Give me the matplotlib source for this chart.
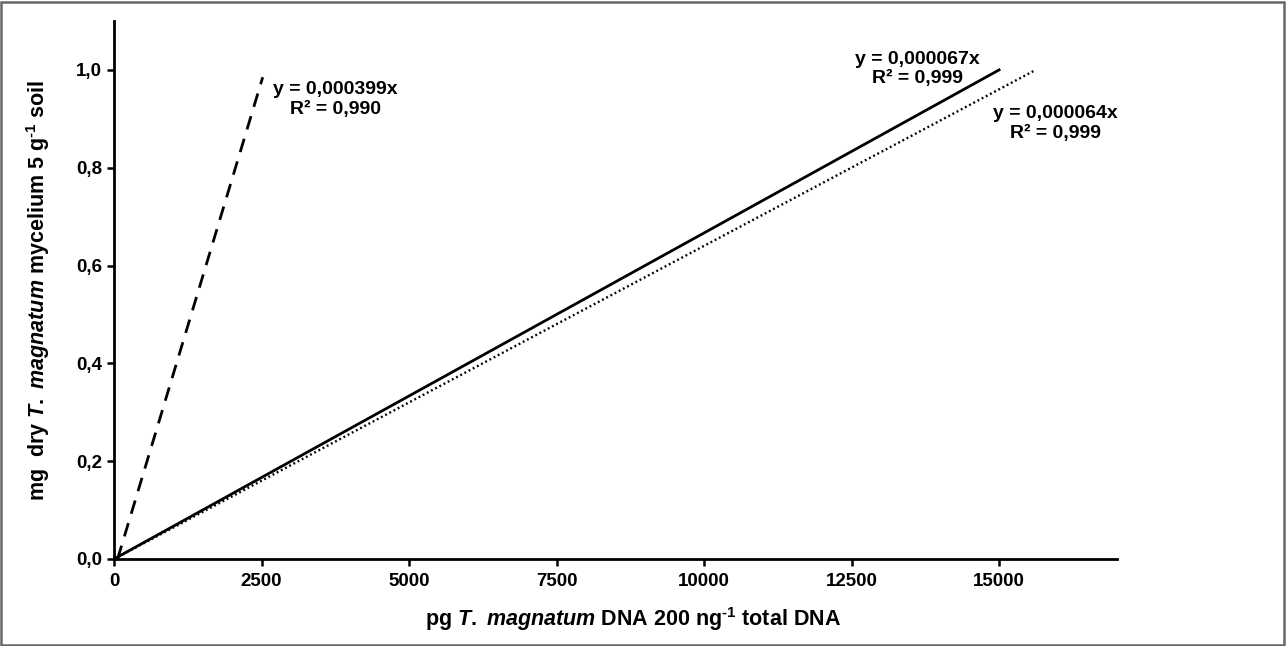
import matplotlib.pyplot as plt
from matplotlib.patches import Rectangle

plt.rcParams['font.family'] = ['Liberation Sans', 'DejaVu Sans']
plt.rcParams['font.weight'] = 'bold'
plt.rcParams['axes.labelweight'] = 'bold'
plt.rcParams['mathtext.fontset'] = 'custom'
plt.rcParams['mathtext.rm'] = 'Liberation Sans:bold'
plt.rcParams['mathtext.it'] = 'Liberation Sans:italic:bold'
plt.rcParams['mathtext.bf'] = 'Liberation Sans:bold'

# regression lines, endpoints
dashed_x = [60, 2520]
dashed_y = [0.0, 0.985]
solid_x = [0, 15000]
solid_y = [0.0, 1.0]
dotted_x = [0, 15620]
dotted_y = [0.0, 1.0]

eq_labels = ['y = 0,000399x\nR\u00b2 = 0,990',
             'y = 0,000067x\nR\u00b2 = 0,999',
             'y = 0,000064x\nR\u00b2 = 0,999']
eq_x = [3750, 13610, 15950]
eq_y = [0.94, 1.002, 0.89]

x_ticks = [0, 2500, 5000, 7500, 10000, 12500, 15000]
y_ticks = [0.0, 0.2, 0.4, 0.6, 0.8, 1.0]
y_tick_labels = ['0,0', '0,2', '0,4', '0,6', '0,8', '1,0']

fig = plt.figure(figsize=(12.87, 6.46), dpi=100)
ax = fig.add_axes([0.0886, 0.1347, 0.7794, 0.8328])

ax.plot(dashed_x, dashed_y, color='black', lw=2, linestyle=(0, (5, 3.5)))
ax.plot(solid_x, solid_y, color='black', lw=2)
ax.plot(dotted_x, dotted_y, color='black', lw=1.7, linestyle=(0, (0.8, 1.2)))

for lab, tx, ty in zip(eq_labels, eq_x, eq_y):
    ax.text(tx, ty, lab, ha='center', va='center', multialignment='center',
            fontsize=14, fontweight='bold', linespacing=1.2)

ax.set_xlim(0, 17000)
ax.set_ylim(0, 1.1)
ax.set_xticks(x_ticks)
ax.set_xticklabels([str(t) for t in x_ticks])
ax.set_yticks(y_ticks)
ax.set_yticklabels(y_tick_labels)
ax.tick_params(axis='both', direction='out', length=5, width=1.8, labelsize=13.5)
ax.tick_params(axis='y', pad=3.5)
ax.tick_params(axis='x', pad=5)
for lbl in ax.get_xticklabels() + ax.get_yticklabels():
    lbl.set_fontweight('bold')

ax.spines['top'].set_visible(False)
ax.spines['right'].set_visible(False)
ax.spines['left'].set_linewidth(2)
ax.spines['bottom'].set_linewidth(2)

ax.set_xlabel(r'pg $\mathit{T.}$ $\mathit{magnatum}$ DNA 200 ng$^{\text{-1}}$ total DNA',
              fontsize=15.5, fontweight='bold', labelpad=11)
ax.xaxis.label.set_x(0.517)
ax.set_ylabel(r'mg  dry $\mathit{T.}$ $\mathit{magnatum}$ mycelium 5 g$^{\text{-1}}$ soil',
              fontsize=15.5, fontweight='bold', labelpad=17)

# grey frame around the whole picture
fig.patches.append(Rectangle((0.001, 0.002), 0.997, 0.995, transform=fig.transFigure,
                             fill=False, edgecolor='#666666', lw=1.8))

fig.savefig('out.png', dpi=100)
